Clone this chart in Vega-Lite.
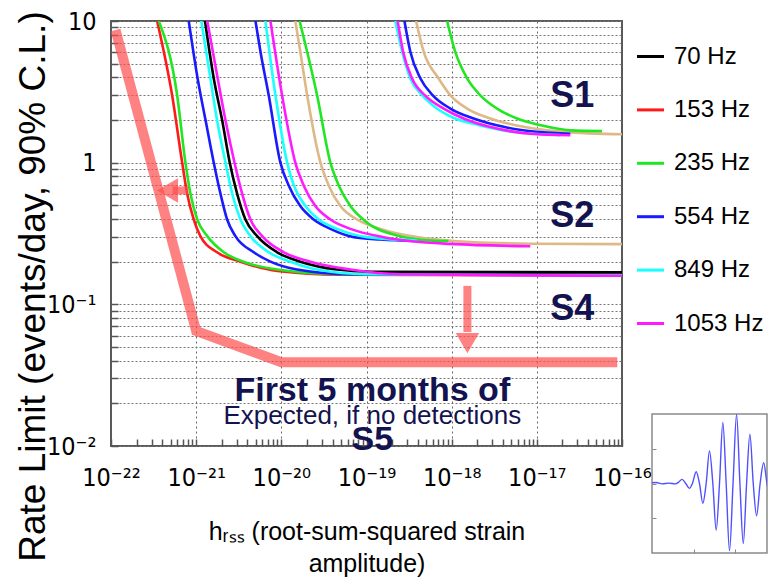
{
  "$schema": "https://vega.github.io/schema/vega-lite/v6.json",
  "background": "white",
  "padding": {"left": 12, "top": 8, "right": 0, "bottom": 0},
  "bounds": "flush",
  "spacing": 30,
  "config": {
    "font": "Liberation Sans",
    "view": {"stroke": "#5a5a5a", "strokeWidth": 2},
    "axis": {"labelFont": "DejaVu Sans Condensed, DejaVu Sans", "titleFont": "Liberation Sans", "labelColor": "#000", "titleColor": "#000", "domain": false}
  },
  "datasets": {
    "curves": [
      {"run":"S1","freq":"other","hrss":3.82e-19,"rate":10},
      {"run":"S1","freq":"other","hrss":4.69e-19,"rate":6.07},
      {"run":"S1","freq":"other","hrss":7.03e-19,"rate":3.93},
      {"run":"S1","freq":"other","hrss":9.66e-19,"rate":2.99},
      {"run":"S1","freq":"other","hrss":1.52e-18,"rate":2.41},
      {"run":"S1","freq":"other","hrss":2.84e-18,"rate":2.05},
      {"run":"S1","freq":"other","hrss":7.0e-18,"rate":1.79},
      {"run":"S1","freq":"other","hrss":2.07e-17,"rate":1.65},
      {"run":"S1","freq":"other","hrss":1e-16,"rate":1.586},
      {"run":"S1","freq":"235 Hz","hrss":8.83e-19,"rate":10},
      {"run":"S1","freq":"235 Hz","hrss":1.1e-18,"rate":6.07},
      {"run":"S1","freq":"235 Hz","hrss":1.52e-18,"rate":3.93},
      {"run":"S1","freq":"235 Hz","hrss":2.17e-18,"rate":2.99},
      {"run":"S1","freq":"235 Hz","hrss":3.41e-18,"rate":2.41},
      {"run":"S1","freq":"235 Hz","hrss":5.86e-18,"rate":2.05},
      {"run":"S1","freq":"235 Hz","hrss":1.1e-17,"rate":1.84},
      {"run":"S1","freq":"235 Hz","hrss":2.47e-17,"rate":1.69},
      {"run":"S1","freq":"235 Hz","hrss":5.82e-17,"rate":1.67},
      {"run":"S1","freq":"554 Hz","hrss":2.79e-19,"rate":10},
      {"run":"S1","freq":"554 Hz","hrss":3.27e-19,"rate":6.07},
      {"run":"S1","freq":"554 Hz","hrss":4.3e-19,"rate":3.93},
      {"run":"S1","freq":"554 Hz","hrss":6.0e-19,"rate":2.99},
      {"run":"S1","freq":"554 Hz","hrss":9.66e-19,"rate":2.41},
      {"run":"S1","freq":"554 Hz","hrss":1.81e-18,"rate":2.05},
      {"run":"S1","freq":"554 Hz","hrss":4.07e-18,"rate":1.79},
      {"run":"S1","freq":"554 Hz","hrss":1e-17,"rate":1.65},
      {"run":"S1","freq":"554 Hz","hrss":2.47e-17,"rate":1.6},
      {"run":"S1","freq":"849 Hz","hrss":2.18e-19,"rate":10},
      {"run":"S1","freq":"849 Hz","hrss":2.62e-19,"rate":6.07},
      {"run":"S1","freq":"849 Hz","hrss":3.27e-19,"rate":3.93},
      {"run":"S1","freq":"849 Hz","hrss":4.5e-19,"rate":2.99},
      {"run":"S1","freq":"849 Hz","hrss":6.7e-19,"rate":2.41},
      {"run":"S1","freq":"849 Hz","hrss":1.1e-18,"rate":2.05},
      {"run":"S1","freq":"849 Hz","hrss":2.1e-18,"rate":1.84},
      {"run":"S1","freq":"849 Hz","hrss":4.89e-18,"rate":1.66},
      {"run":"S1","freq":"849 Hz","hrss":1.89e-17,"rate":1.565},
      {"run":"S1","freq":"1053 Hz","hrss":2.32e-19,"rate":10},
      {"run":"S1","freq":"1053 Hz","hrss":2.69e-19,"rate":6.07},
      {"run":"S1","freq":"1053 Hz","hrss":3.43e-19,"rate":3.93},
      {"run":"S1","freq":"1053 Hz","hrss":4.9e-19,"rate":2.97},
      {"run":"S1","freq":"1053 Hz","hrss":8.05e-19,"rate":2.41},
      {"run":"S1","freq":"1053 Hz","hrss":1.38e-18,"rate":2.05},
      {"run":"S1","freq":"1053 Hz","hrss":3.41e-18,"rate":1.74},
      {"run":"S1","freq":"1053 Hz","hrss":8.39e-18,"rate":1.6},
      {"run":"S1","freq":"1053 Hz","hrss":2.47e-17,"rate":1.56},
      {"run":"S2","freq":"other","hrss":1.46e-20,"rate":10},
      {"run":"S2","freq":"other","hrss":1.67e-20,"rate":6.07},
      {"run":"S2","freq":"other","hrss":2.01e-20,"rate":2.99},
      {"run":"S2","freq":"other","hrss":2.88e-20,"rate":1.0},
      {"run":"S2","freq":"other","hrss":3.6e-20,"rate":0.691},
      {"run":"S2","freq":"other","hrss":4.94e-20,"rate":0.494},
      {"run":"S2","freq":"other","hrss":7.76e-20,"rate":0.397},
      {"run":"S2","freq":"other","hrss":1.46e-19,"rate":0.341},
      {"run":"S2","freq":"other","hrss":3.93e-19,"rate":0.298},
      {"run":"S2","freq":"other","hrss":1.66e-18,"rate":0.275},
      {"run":"S2","freq":"other","hrss":8.39e-18,"rate":0.268},
      {"run":"S2","freq":"other","hrss":1e-16,"rate":0.266},
      {"run":"S2","freq":"235 Hz","hrss":1.64e-20,"rate":10},
      {"run":"S2","freq":"235 Hz","hrss":2.01e-20,"rate":6.07},
      {"run":"S2","freq":"235 Hz","hrss":2.63e-20,"rate":2.99},
      {"run":"S2","freq":"235 Hz","hrss":3.77e-20,"rate":1.0},
      {"run":"S2","freq":"235 Hz","hrss":4.72e-20,"rate":0.691},
      {"run":"S2","freq":"235 Hz","hrss":6.47e-20,"rate":0.494},
      {"run":"S2","freq":"235 Hz","hrss":1.0e-19,"rate":0.38},
      {"run":"S2","freq":"235 Hz","hrss":2.29e-19,"rate":0.306},
      {"run":"S2","freq":"235 Hz","hrss":5.62e-19,"rate":0.282},
      {"run":"S2","freq":"235 Hz","hrss":9.14e-19,"rate":0.28},
      {"run":"S2","freq":"554 Hz","hrss":4.97e-21,"rate":10},
      {"run":"S2","freq":"554 Hz","hrss":5.69e-21,"rate":6.07},
      {"run":"S2","freq":"554 Hz","hrss":7.11e-21,"rate":2.99},
      {"run":"S2","freq":"554 Hz","hrss":9.75e-21,"rate":1.0},
      {"run":"S2","freq":"554 Hz","hrss":1.22e-20,"rate":0.691},
      {"run":"S2","freq":"554 Hz","hrss":1.67e-20,"rate":0.494},
      {"run":"S2","freq":"554 Hz","hrss":2.4e-20,"rate":0.397},
      {"run":"S2","freq":"554 Hz","hrss":3.77e-20,"rate":0.341},
      {"run":"S2","freq":"554 Hz","hrss":7.08e-20,"rate":0.298},
      {"run":"S2","freq":"554 Hz","hrss":1.46e-19,"rate":0.287},
      {"run":"S2","freq":"554 Hz","hrss":3.95e-19,"rate":0.28},
      {"run":"S2","freq":"849 Hz","hrss":6.5e-21,"rate":10},
      {"run":"S2","freq":"849 Hz","hrss":8.53e-21,"rate":2.99},
      {"run":"S2","freq":"849 Hz","hrss":1.17e-20,"rate":1.0},
      {"run":"S2","freq":"849 Hz","hrss":1.4e-20,"rate":0.691},
      {"run":"S2","freq":"849 Hz","hrss":1.92e-20,"rate":0.494},
      {"run":"S2","freq":"849 Hz","hrss":2.75e-20,"rate":0.397},
      {"run":"S2","freq":"849 Hz","hrss":4.52e-20,"rate":0.341},
      {"run":"S2","freq":"849 Hz","hrss":1.02e-19,"rate":0.298},
      {"run":"S2","freq":"849 Hz","hrss":3.95e-19,"rate":0.282},
      {"run":"S2","freq":"1053 Hz","hrss":7.45e-21,"rate":10},
      {"run":"S2","freq":"1053 Hz","hrss":1.02e-20,"rate":2.99},
      {"run":"S2","freq":"1053 Hz","hrss":1.46e-20,"rate":1.0},
      {"run":"S2","freq":"1053 Hz","hrss":1.83e-20,"rate":0.691},
      {"run":"S2","freq":"1053 Hz","hrss":2.51e-20,"rate":0.494},
      {"run":"S2","freq":"1053 Hz","hrss":3.77e-20,"rate":0.397},
      {"run":"S2","freq":"1053 Hz","hrss":6.47e-20,"rate":0.341},
      {"run":"S2","freq":"1053 Hz","hrss":1.59e-19,"rate":0.298},
      {"run":"S2","freq":"1053 Hz","hrss":9.66e-19,"rate":0.267},
      {"run":"S2","freq":"1053 Hz","hrss":8.39e-18,"rate":0.257},
      {"run":"S4","freq":"153 Hz","hrss":3.48e-22,"rate":10},
      {"run":"S4","freq":"153 Hz","hrss":5.22e-22,"rate":2.99},
      {"run":"S4","freq":"153 Hz","hrss":6.85e-22,"rate":1.0},
      {"run":"S4","freq":"153 Hz","hrss":7.84e-22,"rate":0.603},
      {"run":"S4","freq":"153 Hz","hrss":9.37e-22,"rate":0.397},
      {"run":"S4","freq":"153 Hz","hrss":1.12e-21,"rate":0.303},
      {"run":"S4","freq":"153 Hz","hrss":1.76e-21,"rate":0.233},
      {"run":"S4","freq":"153 Hz","hrss":3.31e-21,"rate":0.2},
      {"run":"S4","freq":"153 Hz","hrss":9.0e-21,"rate":0.172},
      {"run":"S4","freq":"153 Hz","hrss":4.94e-20,"rate":0.162},
      {"run":"S4","freq":"153 Hz","hrss":1e-16,"rate":0.16},
      {"run":"S4","freq":"235 Hz","hrss":3.64e-22,"rate":10},
      {"run":"S4","freq":"235 Hz","hrss":5.98e-22,"rate":2.99},
      {"run":"S4","freq":"235 Hz","hrss":7.48e-22,"rate":1.0},
      {"run":"S4","freq":"235 Hz","hrss":8.57e-22,"rate":0.603},
      {"run":"S4","freq":"235 Hz","hrss":1.03e-21,"rate":0.397},
      {"run":"S4","freq":"235 Hz","hrss":1.35e-21,"rate":0.303},
      {"run":"S4","freq":"235 Hz","hrss":2.11e-21,"rate":0.233},
      {"run":"S4","freq":"235 Hz","hrss":3.59e-21,"rate":0.2},
      {"run":"S4","freq":"235 Hz","hrss":8.94e-21,"rate":0.176},
      {"run":"S4","freq":"235 Hz","hrss":5e-20,"rate":0.163},
      {"run":"S4","freq":"235 Hz","hrss":1e-16,"rate":0.161},
      {"run":"S4","freq":"554 Hz","hrss":8.18e-22,"rate":10},
      {"run":"S4","freq":"554 Hz","hrss":1.04e-21,"rate":3.93},
      {"run":"S4","freq":"554 Hz","hrss":1.29e-21,"rate":1.99},
      {"run":"S4","freq":"554 Hz","hrss":1.61e-21,"rate":1.0},
      {"run":"S4","freq":"554 Hz","hrss":1.93e-21,"rate":0.603},
      {"run":"S4","freq":"554 Hz","hrss":2.31e-21,"rate":0.397},
      {"run":"S4","freq":"554 Hz","hrss":2.89e-21,"rate":0.303},
      {"run":"S4","freq":"554 Hz","hrss":4.74e-21,"rate":0.233},
      {"run":"S4","freq":"554 Hz","hrss":7.45e-21,"rate":0.2},
      {"run":"S4","freq":"554 Hz","hrss":1.53e-20,"rate":0.176},
      {"run":"S4","freq":"554 Hz","hrss":6.47e-20,"rate":0.163},
      {"run":"S4","freq":"554 Hz","hrss":1e-16,"rate":0.161},
      {"run":"S4","freq":"849 Hz","hrss":1.15e-21,"rate":10},
      {"run":"S4","freq":"849 Hz","hrss":1.47e-21,"rate":3.93},
      {"run":"S4","freq":"849 Hz","hrss":1.76e-21,"rate":1.99},
      {"run":"S4","freq":"849 Hz","hrss":2.21e-21,"rate":1.0},
      {"run":"S4","freq":"849 Hz","hrss":2.65e-21,"rate":0.603},
      {"run":"S4","freq":"849 Hz","hrss":3.31e-21,"rate":0.397},
      {"run":"S4","freq":"849 Hz","hrss":4.34e-21,"rate":0.303},
      {"run":"S4","freq":"849 Hz","hrss":7.11e-21,"rate":0.233},
      {"run":"S4","freq":"849 Hz","hrss":1.28e-20,"rate":0.2},
      {"run":"S4","freq":"849 Hz","hrss":2.63e-20,"rate":0.176},
      {"run":"S4","freq":"849 Hz","hrss":1e-19,"rate":0.163},
      {"run":"S4","freq":"849 Hz","hrss":1e-16,"rate":0.16},
      {"run":"S4","freq":"70 Hz","hrss":1.27e-21,"rate":10},
      {"run":"S4","freq":"70 Hz","hrss":1.61e-21,"rate":3.93},
      {"run":"S4","freq":"70 Hz","hrss":2.02e-21,"rate":1.99},
      {"run":"S4","freq":"70 Hz","hrss":2.48e-21,"rate":1.0},
      {"run":"S4","freq":"70 Hz","hrss":3.03e-21,"rate":0.603},
      {"run":"S4","freq":"70 Hz","hrss":3.79e-21,"rate":0.397},
      {"run":"S4","freq":"70 Hz","hrss":5.2e-21,"rate":0.303},
      {"run":"S4","freq":"70 Hz","hrss":8.94e-21,"rate":0.233},
      {"run":"S4","freq":"70 Hz","hrss":1.67e-20,"rate":0.2},
      {"run":"S4","freq":"70 Hz","hrss":4.52e-20,"rate":0.176},
      {"run":"S4","freq":"70 Hz","hrss":1.11e-19,"rate":0.17},
      {"run":"S4","freq":"70 Hz","hrss":1e-16,"rate":0.168},
      {"run":"S4","freq":"1053 Hz","hrss":1.35e-21,"rate":10},
      {"run":"S4","freq":"1053 Hz","hrss":1.79e-21,"rate":3.93},
      {"run":"S4","freq":"1053 Hz","hrss":2.21e-21,"rate":1.99},
      {"run":"S4","freq":"1053 Hz","hrss":2.82e-21,"rate":1.0},
      {"run":"S4","freq":"1053 Hz","hrss":3.47e-21,"rate":0.603},
      {"run":"S4","freq":"1053 Hz","hrss":4.34e-21,"rate":0.397},
      {"run":"S4","freq":"1053 Hz","hrss":5.96e-21,"rate":0.303},
      {"run":"S4","freq":"1053 Hz","hrss":1.07e-20,"rate":0.233},
      {"run":"S4","freq":"1053 Hz","hrss":2.19e-20,"rate":0.2},
      {"run":"S4","freq":"1053 Hz","hrss":6.47e-20,"rate":0.176},
      {"run":"S4","freq":"1053 Hz","hrss":2.5e-19,"rate":0.163},
      {"run":"S4","freq":"1053 Hz","hrss":1e-16,"rate":0.159}
    ],
    "expected": [
      {"hrss":1.13e-22,"rate":8.63},
      {"hrss":1e-21,"rate":0.065},
      {"hrss":1e-20,"rate":0.039},
      {"hrss":8.8e-17,"rate":0.039}
    ],
    "arrowsLeft": [{"hrss":8.1e-22,"hrss2":5.3e-22,"rate":0.637,"head":4.6e-22}],
    "arrowsDown": [{"hrss":1.53e-18,"rate":0.135,"rate2":0.0637,"head":0.0532}],
    "runLabels": [
      {"label":"S1","hrss":2.6e-17,"rate":2.96},
      {"label":"S2","hrss":2.6e-17,"rate":0.418},
      {"label":"S4","hrss":2.6e-17,"rate":0.0927}
    ],
    "s5Labels": [
      {"label":"First 5 months of","hrss":1.17e-19,"rate":0.0243},
      {"label":"Expected, if no detections","hrss":1.17e-19,"rate":0.0162},
      {"label":"S5","hrss":1.17e-19,"rate":0.011}
    ],
    "wave": [
      {"t":0.0,"amp":0.02},{"t":0.1,"amp":0.03},{"t":0.24,"amp":-0.01},{"t":0.4,"amp":0.01},
      {"t":0.56,"amp":-0.01},{"t":0.64,"amp":0.04},{"t":0.72,"amp":0.12},{"t":0.81,"amp":0.0},
      {"t":0.9,"amp":-0.14},{"t":0.97,"amp":0.0},{"t":1.06,"amp":0.34},{"t":1.14,"amp":0.0},
      {"t":1.22,"amp":-0.57},{"t":1.3,"amp":0.0},{"t":1.38,"amp":0.94},{"t":1.46,"amp":0.0},
      {"t":1.54,"amp":-1.34},{"t":1.62,"amp":0.0},{"t":1.7,"amp":1.76},{"t":1.78,"amp":0.0},
      {"t":1.86,"amp":-1.94},{"t":1.945,"amp":0.0},{"t":2.03,"amp":1.99},{"t":2.11,"amp":0.0},
      {"t":2.19,"amp":-1.73},{"t":2.27,"amp":0.0},{"t":2.35,"amp":1.42},{"t":2.43,"amp":0.0},
      {"t":2.51,"amp":-0.93},{"t":2.595,"amp":0.0},{"t":2.68,"amp":0.6},{"t":2.76,"amp":0.0},
      {"t":2.84,"amp":-0.35},{"t":2.92,"amp":0.0}
    ]
  },
  "hconcat": [
    {
      "width": 511,
      "height": 425,
      "layer": [
        {
          "data": {"name": "curves"},
          "mark": {"type": "line", "strokeWidth": 2.6, "interpolate": "monotone", "clip": true},
          "encoding": {
            "x": {
              "field": "hrss", "type": "quantitative",
              "scale": {"type": "log", "domain": [1e-22, 1e-16], "nice": false},
              "axis": {
                "values": [1e-22,2e-22,3e-22,4e-22,5e-22,6e-22,7e-22,8e-22,9e-22,1e-21,2e-21,3e-21,4e-21,5e-21,6e-21,7e-21,8e-21,9e-21,1e-20,2e-20,3e-20,4e-20,5e-20,6e-20,7e-20,8e-20,9e-20,1e-19,2e-19,3e-19,4e-19,5e-19,6e-19,7e-19,8e-19,9e-19,1e-18,2e-18,3e-18,4e-18,5e-18,6e-18,7e-18,8e-18,9e-18,1e-17,2e-17,3e-17,4e-17,5e-17,6e-17,7e-17,8e-17,9e-17,1e-16],
                "labelExpr": "datum.value == 1e-22 ? '10⁻²²' : datum.value == 1e-21 ? '10⁻²¹' : datum.value == 1e-20 ? '10⁻²⁰' : datum.value == 1e-19 ? '10⁻¹⁹' : datum.value == 1e-18 ? '10⁻¹⁸' : datum.value == 1e-17 ? '10⁻¹⁷' : datum.value == 1e-16 ? '10⁻¹⁶' : ''",
                "labelFontSize": 25,
                "labelPadding": 26,
                "labelFlush": false,
                "labelOverlap": false,
                "labelBound": false,
                "tickSize": -7,
                "tickColor": "#555",
                "tickWidth": 1.5,
                "grid": true,
                "gridDash": [2, 3],
                "gridColor": "#666",
                "gridOpacity": {"condition": {"test": "datum.value == 1e-21 || datum.value == 1e-20 || datum.value == 1e-19 || datum.value == 1e-18 || datum.value == 1e-17", "value": 1}, "value": 0},
                "title": ["hᵣₛₛ (root-sum-squared strain", "amplitude)"],
                "titleFontSize": 25,
                "titleFontWeight": "normal",
                "titlePadding": 29,
                "titleLineHeight": 32
              }
            },
            "y": {
              "field": "rate", "type": "quantitative",
              "scale": {"type": "log", "domain": [0.01, 10], "nice": false},
              "axis": {
                "values": [0.01,0.02,0.03,0.04,0.05,0.06,0.07,0.08,0.09,0.1,0.2,0.3,0.4,0.5,0.6,0.7,0.8,0.9,1,2,3,4,5,6,7,8,9,10],
                "labelExpr": "datum.value == 10 ? '10' : datum.value == 1 ? '1' : datum.value == 0.1 ? '10⁻¹' : datum.value == 0.01 ? '10⁻²' : ''",
                "labelFontSize": 25,
                "labelPadding": 22,
                "labelFlush": false,
                "labelOverlap": false,
                "labelBound": false,
                "tickSize": -7,
                "tickColor": "#555",
                "tickWidth": 1.5,
                "grid": true,
                "gridDash": [2, 2],
                "gridColor": "#777",
                "title": "Rate Limit (events/day, 90% C.L.)",
                "titleFontSize": 37,
                "titleFontWeight": "normal",
                "titleAngle": 270,
                "titleAlign": "center",
                "titleBaseline": "middle",
                "titleX": -78,
                "titleY": 265
              }
            },
            "color": {
              "field": "freq", "type": "nominal",
              "scale": {
                "domain": ["70 Hz","153 Hz","235 Hz","554 Hz","849 Hz","1053 Hz","other"],
                "range": ["#000000","#ff1a1a","#22e622","#1a1aff","#1affff","#ff1aff","#deb887"]
              },
              "legend": {
                "title": null,
                "values": ["70 Hz","153 Hz","235 Hz","554 Hz","849 Hz","1053 Hz"],
                "orient": "none",
                "legendX": 524,
                "legendY": 20,
                "padding": 0,
                "symbolType": "stroke",
                "symbolSize": 730,
                "symbolStrokeWidth": 3,
                "labelFontSize": 24,
                "labelFont": "Liberation Sans",
                "labelColor": "#000",
                "labelOffset": 8,
                "rowPadding": 25.4
              }
            },
            "detail": {"field": "run", "type": "nominal"}
          }
        },
        {
          "data": {"name": "expected"},
          "mark": {"type": "line", "color": "#ff4d4d", "strokeWidth": 10, "opacity": 0.7, "strokeCap": "butt", "strokeJoin": "miter", "clip": true},
          "encoding": {
            "x": {"field": "hrss", "type": "quantitative"},
            "y": {"field": "rate", "type": "quantitative"}
          }
        },
        {
          "data": {"name": "arrowsLeft"},
          "mark": {"type": "rule", "color": "#ff4d4d", "strokeWidth": 8, "opacity": 0.7},
          "encoding": {
            "x": {"field": "hrss", "type": "quantitative"},
            "x2": {"field": "hrss2"},
            "y": {"field": "rate", "type": "quantitative"}
          }
        },
        {
          "data": {"name": "arrowsLeft"},
          "mark": {"type": "point", "shape": "triangle-left", "filled": true, "color": "#ff4d4d", "size": 600, "opacity": 0.7, "strokeWidth": 0},
          "encoding": {
            "x": {"field": "head", "type": "quantitative"},
            "y": {"field": "rate", "type": "quantitative"}
          }
        },
        {
          "data": {"name": "arrowsDown"},
          "mark": {"type": "rule", "color": "#ff4d4d", "strokeWidth": 8, "opacity": 0.7},
          "encoding": {
            "x": {"field": "hrss", "type": "quantitative"},
            "y": {"field": "rate", "type": "quantitative"},
            "y2": {"field": "rate2"}
          }
        },
        {
          "data": {"name": "arrowsDown"},
          "mark": {"type": "point", "shape": "triangle-down", "filled": true, "color": "#ff4d4d", "size": 550, "opacity": 0.7, "strokeWidth": 0},
          "encoding": {
            "x": {"field": "hrss", "type": "quantitative"},
            "y": {"field": "head", "type": "quantitative"}
          }
        },
        {
          "data": {"name": "runLabels"},
          "mark": {"type": "text", "font": "Liberation Sans", "fontWeight": "bold", "fontSize": 36, "color": "#13134f", "align": "center", "baseline": "middle"},
          "encoding": {
            "x": {"field": "hrss", "type": "quantitative"},
            "y": {"field": "rate", "type": "quantitative"},
            "text": {"field": "label"}
          }
        },
        {
          "data": {"name": "s5Labels"},
          "transform": [{"filter": "datum.label != 'Expected, if no detections'"}],
          "mark": {"type": "text", "font": "Liberation Sans", "fontWeight": "bold", "fontSize": 34, "color": "#13134f", "align": "center", "baseline": "middle"},
          "encoding": {
            "x": {"field": "hrss", "type": "quantitative"},
            "y": {"field": "rate", "type": "quantitative"},
            "text": {"field": "label"}
          }
        },
        {
          "data": {"name": "s5Labels"},
          "transform": [{"filter": "datum.label == 'Expected, if no detections'"}],
          "mark": {"type": "text", "font": "Liberation Sans", "fontSize": 26, "color": "#13134f", "align": "center", "baseline": "middle"},
          "encoding": {
            "x": {"field": "hrss", "type": "quantitative"},
            "y": {"field": "rate", "type": "quantitative"},
            "text": {"field": "label"}
          }
        }
      ]
    },
    {
      "bounds": "flush",
      "spacing": 10,
      "vconcat": [
        {
          "width": 115,
          "height": 383,
          "view": {"stroke": null},
          "data": {"values": [{}]},
          "mark": {"type": "point", "opacity": 0},
          "encoding": {}
        },
        {
          "width": 115,
          "height": 139,
          "view": {"stroke": "#8a8a8a", "strokeWidth": 1.5},
          "data": {"name": "wave"},
          "mark": {"type": "line", "interpolate": "monotone", "color": "#5050ff", "strokeWidth": 1.4, "clip": true},
          "encoding": {
            "x": {
              "field": "t", "type": "quantitative",
              "scale": {"domain": [0, 2.76], "nice": false, "zero": false},
              "axis": {"values": [1, 2], "labels": false, "title": null, "grid": false, "domain": false, "tickSize": -4, "tickColor": "#888"}
            },
            "y": {
              "field": "amp", "type": "quantitative",
              "scale": {"domain": [-2, 2], "nice": false},
              "axis": {"values": [-1, 0, 1], "labels": false, "title": null, "grid": false, "domain": false, "tickSize": -4, "tickColor": "#888"}
            }
          }
        }
      ]
    }
  ]
}
